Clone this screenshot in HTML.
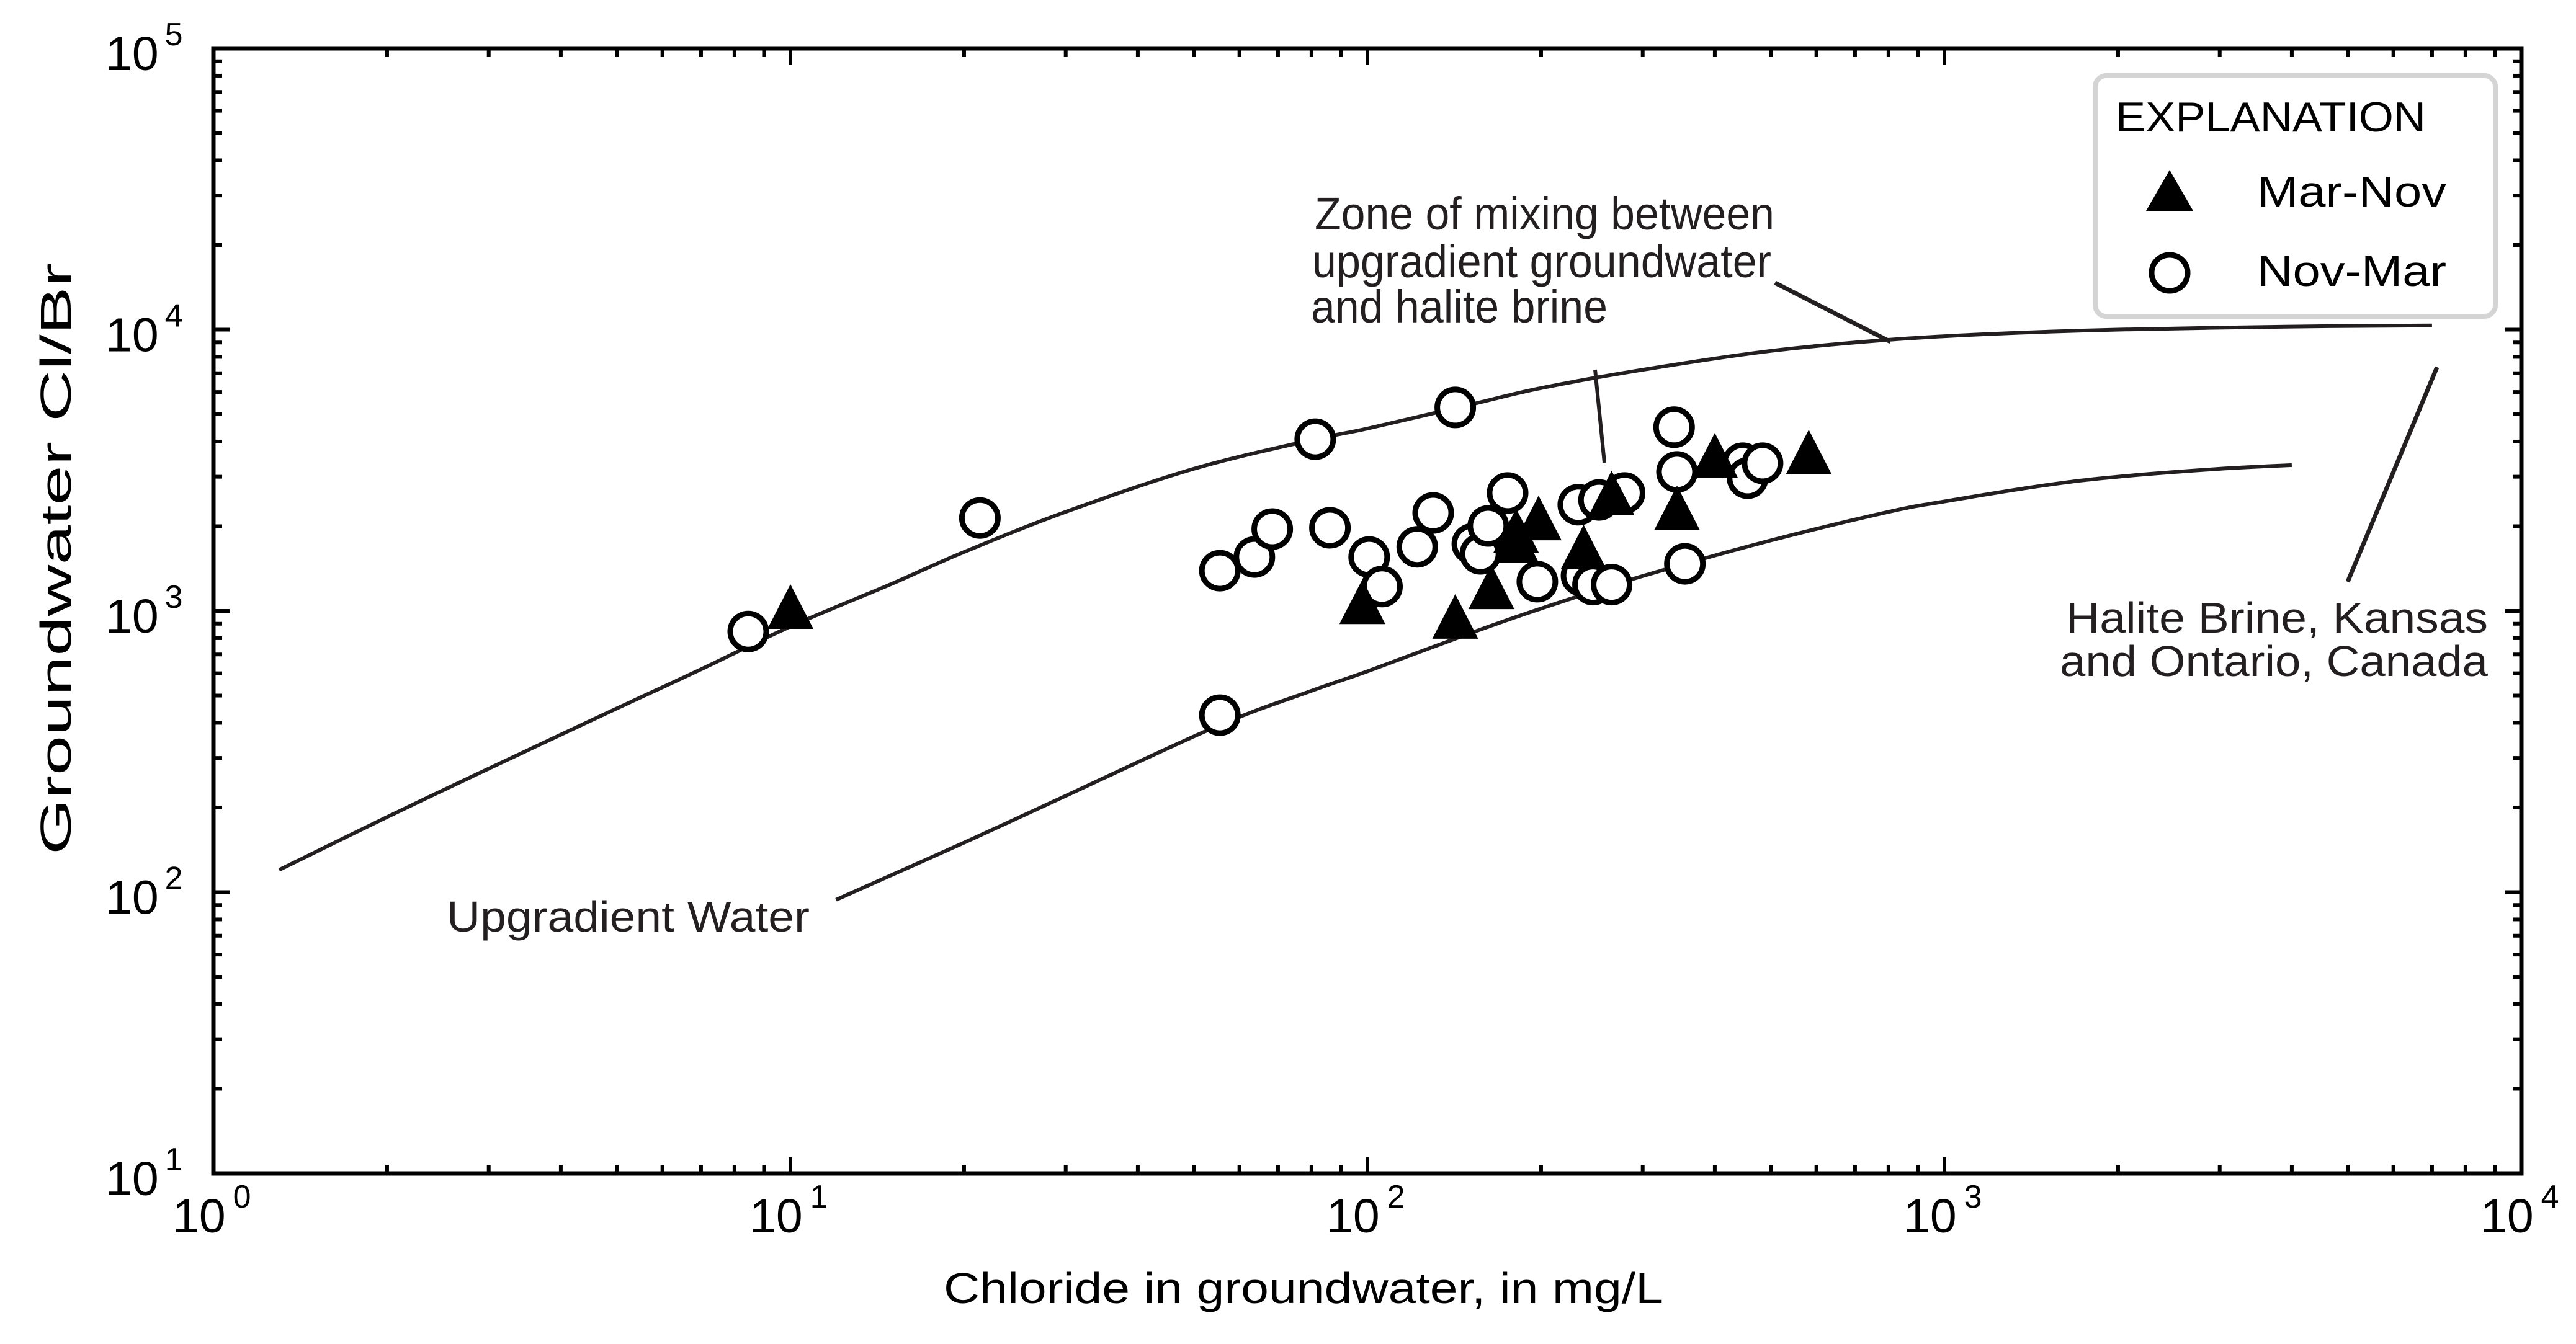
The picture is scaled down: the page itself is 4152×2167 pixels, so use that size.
<!DOCTYPE html>
<html><head><meta charset="utf-8"><style>
html,body{margin:0;padding:0;background:#fff;}
svg{display:block;font-family:"Liberation Sans",sans-serif;}
</style></head><body>
<svg id="chart" width="4152" height="2167" viewBox="0 0 4152 2167" xmlns="http://www.w3.org/2000/svg">
<rect width="4152" height="2167" fill="#fff"/>
<g id="curves"></g>
<g id="marks"></g>
<g id="ticks"></g>
<rect x="344" y="78" width="3720" height="1814" fill="none" stroke="#000" stroke-width="7"/>
<g id="labels" font-size="77"></g>
<text x="1521" y="2101" font-size="70" textLength="1160" lengthAdjust="spacingAndGlyphs">Chloride in groundwater, in mg/L</text>
<text transform="translate(114,901) rotate(-90)" text-anchor="middle" font-size="70" textLength="954" lengthAdjust="spacingAndGlyphs">Groundwater Cl/Br</text>
<g fill="#231f20" font-size="74">
<text x="2119" y="370" textLength="741" lengthAdjust="spacingAndGlyphs">Zone of mixing between</text>
<text x="2115" y="447" textLength="740" lengthAdjust="spacingAndGlyphs">upgradient groundwater</text>
<text x="2113" y="520" textLength="478" lengthAdjust="spacingAndGlyphs">and halite brine</text>
</g>
<line x1="2861" y1="456" x2="3047" y2="551" stroke="#231f20" stroke-width="7"/>
<line x1="2571" y1="596" x2="2586" y2="746" stroke="#231f20" stroke-width="6"/>
<g fill="#231f20" font-size="70" text-anchor="end">
<text x="4010" y="1020" textLength="680" lengthAdjust="spacingAndGlyphs">Halite Brine, Kansas</text>
<text x="4010" y="1090" textLength="690" lengthAdjust="spacingAndGlyphs">and Ontario, Canada</text>
</g>
<line x1="3928" y1="592" x2="3784" y2="938" stroke="#231f20" stroke-width="7"/>
<text x="720" y="1502" font-size="70" fill="#231f20" textLength="585" lengthAdjust="spacingAndGlyphs">Upgradient Water</text>
<g>
<rect x="3377" y="122" width="645" height="388" rx="18" fill="#fff" stroke="#d4d4d4" stroke-width="8"/>
<text x="3410" y="212" font-size="68" textLength="500" lengthAdjust="spacingAndGlyphs">EXPLANATION</text>
<polygon points="3497,274 3535,340 3459,340" fill="#000"/>
<text x="3638" y="333" font-size="70" textLength="305" lengthAdjust="spacingAndGlyphs">Mar-Nov</text>
<circle cx="3497" cy="440" r="29" fill="#fff" stroke="#000" stroke-width="9"/>
<text x="3638" y="461" font-size="70" textLength="305" lengthAdjust="spacingAndGlyphs">Nov-Mar</text>
</g>
</svg>
<script>
// ---- data ----
const upperCurveX = [1.3, 2, 3, 5, 7, 10, 15, 20, 30, 50, 80, 100, 150, 200, 300, 500, 800, 1200, 2000, 4000, 7000];
const upperCurveY = [120, 185, 275, 450, 620, 880, 1250, 1620, 2250, 3200, 4050, 4450, 5400, 6200, 7200, 8400, 9200, 9650, 10000, 10250, 10350];
const lowerCurveX = [12, 20, 30, 55, 80, 100, 150, 200, 300, 500, 800, 1000, 1500, 2000, 3000, 4000];
const lowerCurveY = [94, 150, 220, 390, 520, 610, 830, 1020, 1330, 1780, 2250, 2450, 2800, 3000, 3200, 3300];
const novMarX = [8.45, 21.3, 55.5, 63.7, 68.4, 81.2, 86.1, 100.7, 106, 130, 122, 142, 152, 157, 162, 175, 197, 232, 235, 246, 252, 265, 279, 55.5, 340, 344, 355, 447, 456, 484];
const novMarY = [845, 2140, 1390, 1555, 1955, 4080, 1975, 1555, 1220, 2230, 1690, 5290, 1730, 1595, 2005, 2625, 1270, 2385, 1335, 1240, 2480, 1240, 2625, 426, 4500, 3120, 1470, 3350, 2965, 3350];
const marNovX = [10, 98, 142, 164, 181, 181, 198, 237, 265, 344, 400, 582];
const marNovY = [995, 1035, 918, 1170, 1850, 1705, 2055, 1620, 2520, 2230, 3435, 3525];
const xDecades = [0, 1, 2, 3, 4];
const yDecades = [1, 2, 3, 4, 5];

// ---- axes ----
const X0 = 344, X1 = 4064, Y0 = 1892, Y1 = 78;
const xMinLog = 0, xMaxLog = 4, yMinLog = 1, yMaxLog = 5;
function sx(v){ return X0 + (Math.log10(v) - xMinLog) / (xMaxLog - xMinLog) * (X1 - X0); }
function sy(v){ return Y0 - (Math.log10(v) - yMinLog) / (yMaxLog - yMinLog) * (Y0 - Y1); }
const NS = 'http://www.w3.org/2000/svg';
function mk(tag, parent){ const e = document.createElementNS(NS, tag); parent.appendChild(e); return e; }

// curves (smooth Catmull-Rom through points)
const gC = document.getElementById('curves');
function drawCurve(xs, ys, name){
  const pts = xs.map((x,i)=>[sx(x), sy(ys[i])]);
  let d = 'M' + pts[0][0].toFixed(1) + ',' + pts[0][1].toFixed(1);
  for (let i = 0; i < pts.length - 1; i++){
    const p0 = pts[i-1] || pts[i], p1 = pts[i], p2 = pts[i+1], p3 = pts[i+2] || pts[i+1];
    const c1 = [p1[0] + (p2[0]-p0[0])/6, p1[1] + (p2[1]-p0[1])/6];
    const c2 = [p2[0] - (p3[0]-p1[0])/6, p2[1] - (p3[1]-p1[1])/6];
    d += ` C${c1[0].toFixed(1)},${c1[1].toFixed(1)} ${c2[0].toFixed(1)},${c2[1].toFixed(1)} ${p2[0].toFixed(1)},${p2[1].toFixed(1)}`;
  }
  const p = mk('path', gC);
  
  
  p.setAttribute('d', d);
  p.setAttribute('fill', 'none');
  p.setAttribute('stroke', '#231f20');
  p.setAttribute('stroke-width', '6');
}
drawCurve(upperCurveX, upperCurveY, 'upper-mixing-curve');
drawCurve(lowerCurveX, lowerCurveY, 'upgradient-water-curve');

// marks
const gM = document.getElementById('marks');
novMarX.forEach((x,i)=>{
  const c = mk('circle', gM);
  
  
  c.setAttribute('cx', sx(x).toFixed(1));
  c.setAttribute('cy', sy(novMarY[i]).toFixed(1));
  c.setAttribute('r', '29');
  c.setAttribute('fill', '#fff');
  c.setAttribute('stroke', '#000');
  c.setAttribute('stroke-width', '9');
});
marNovX.forEach((x,i)=>{
  const cx = sx(x), cy = sy(marNovY[i]);
  const t = mk('polygon', gM);
  
  
  t.setAttribute('points', `${cx},${cy-44} ${cx+37},${cy+28} ${cx-37},${cy+28}`);
  t.setAttribute('fill', '#000');
});

// ticks
const gT = document.getElementById('ticks');
function tick(x1,y1,x2,y2){
  const l = mk('line', gT);
  
  
  l.setAttribute('x1',x1); l.setAttribute('y1',y1); l.setAttribute('x2',x2); l.setAttribute('y2',y2);
  l.setAttribute('stroke','#000'); l.setAttribute('stroke-width','6');
}
for (let d = xMinLog; d < xMaxLog; d++){
  for (let m = 1; m <= 9; m++){
    if (m === 1 && d === xMinLog) continue;
    const x = sx(m * Math.pow(10,d));
    const len = m === 1 ? 26 : 14;
    tick(x, Y0, x, Y0-len); tick(x, Y1, x, Y1+len);
  }
}
for (let d = yMinLog; d < yMaxLog; d++){
  for (let m = 1; m <= 9; m++){
    if (m === 1 && d === yMinLog) continue;
    const y = sy(m * Math.pow(10,d));
    const len = m === 1 ? 26 : 14;
    tick(X0, y, X0+len, y); tick(X1, y, X1-len, y);
  }
}

// tick labels
const gL = document.getElementById('labels');
xDecades.forEach(d=>{
  const t = mk('text', gL);
  
  
  t.setAttribute('x', sx(Math.pow(10,d)) - 66);
  t.setAttribute('y', 1987);
  t.textContent = '10';
  const s = mk('tspan', t);
  s.setAttribute('dx','12'); s.setAttribute('dy','-40'); s.setAttribute('font-size','52');
  s.textContent = String(d);
});
yDecades.forEach(d=>{
  const t = mk('text', gL);
  
  
  t.setAttribute('x', 170);
  t.setAttribute('y', sy(Math.pow(10,d)) + 35);
  t.textContent = '10';
  const s = mk('tspan', t);
  s.setAttribute('dx','10'); s.setAttribute('dy','-40'); s.setAttribute('font-size','52');
  s.textContent = String(d);
});
</script>
</body></html>
